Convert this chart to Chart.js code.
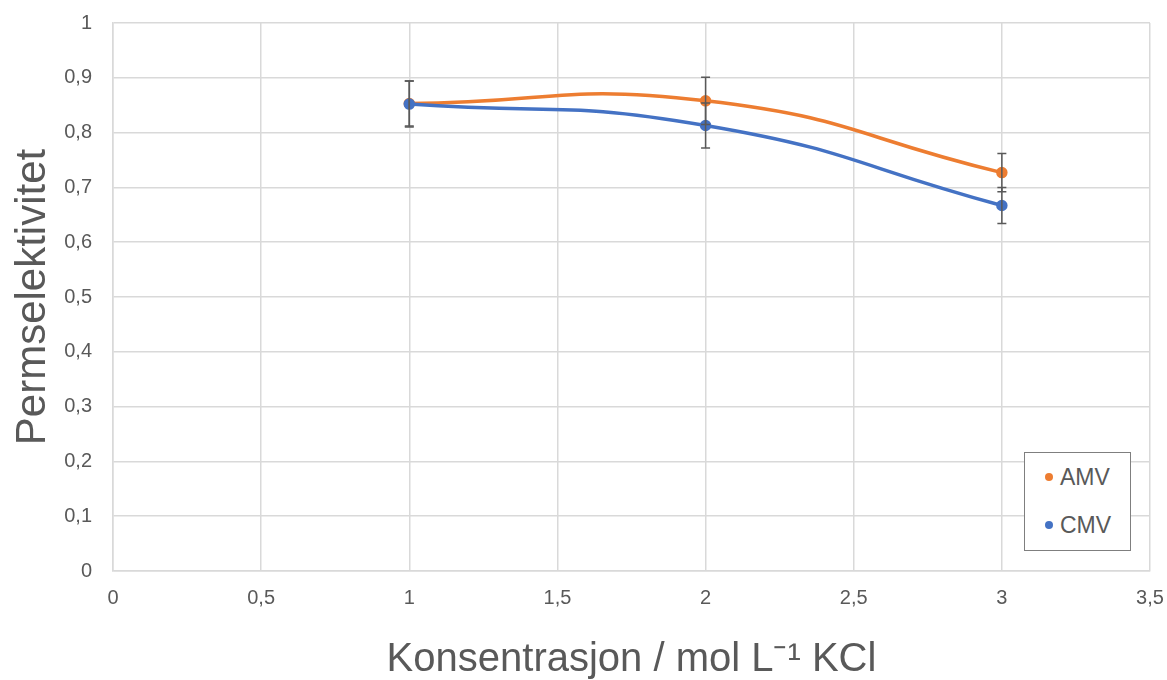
<!DOCTYPE html>
<html>
<head>
<meta charset="utf-8">
<script src="https://cdn.jsdelivr.net/npm/chart.js@4.4.0/dist/chart.umd.min.js"></script>
<style>
    body { margin: 0; background: #fff; }
    #wrap { position: relative; width: 1167px; height: 680px; }
    #legend {
        position: absolute; left: 1024px; top: 452px; width: 105px; height: 97px;
        border: 1.5px solid #7f7f7f; background: #fff;
        font-family: "Liberation Sans", Arial, sans-serif; font-size: 23px; color: #595959;
    }
    #legend div { position: absolute; left: 20px; }
    #legend span.dot { display: inline-block; width: 8px; height: 8px; border-radius: 50%; margin-right: 7px; vertical-align: middle; position: relative; top: -2px; }
</style>
</head>
<body>
<div id="wrap">
    <canvas id="chart" width="1167" height="680"></canvas>
    <div id="legend">
        <div style="top:11px"><span class="dot" style="background:#ED7D31"></span>AMV</div>
        <div style="top:59px"><span class="dot" style="background:#4472C4"></span>CMV</div>
    </div>
</div>
<script>
const concentrations = [1, 2, 3];
const amvValues = [0.853, 0.858, 0.727];
const amvErrors = [0.041, 0.043, 0.035];
const cmvValues = [0.852, 0.813, 0.667];
const cmvErrors = [0.042, 0.041, 0.033];

const TEXT_COLOR = '#595959';
const GRID_COLOR = '#d9d9d9';
const FONT = '"Liberation Sans", Arial, sans-serif';

function toPoints(xs, ys) {
    return xs.map((x, i) => ({ x: x, y: ys[i] }));
}

function comma(v) {
    return String(Math.round(v * 10) / 10).replace('.', ',');
}

// draws vertical error bars with caps from the error arrays
const errorBars = {
    id: 'errorBars',
    afterDatasetsDraw(chart) {
        const ctx = chart.ctx;
        const yScale = chart.scales.y;
        ctx.save();
        ctx.strokeStyle = '#595959';
        ctx.lineWidth = 1.5;
        chart.data.datasets.forEach((ds, di) => {
            const meta = chart.getDatasetMeta(di);
            meta.data.forEach((pt, i) => {
                const v = ds.data[i].y;
                const e = ds.errors[i];
                const top = yScale.getPixelForValue(v + e);
                const bot = yScale.getPixelForValue(v - e);
                ctx.beginPath();
                ctx.moveTo(pt.x, top);
                ctx.lineTo(pt.x, bot);
                ctx.moveTo(pt.x - 4.5, top);
                ctx.lineTo(pt.x + 4.5, top);
                ctx.moveTo(pt.x - 4.5, bot);
                ctx.lineTo(pt.x + 4.5, bot);
                ctx.stroke();
            });
        });
        ctx.restore();
    }
};

new Chart(document.getElementById('chart'), {
    type: 'scatter',
    data: {
        datasets: [{
            label: 'CMV',
            data: toPoints(concentrations, cmvValues),
            errors: cmvErrors,
            borderColor: '#4472C4',
            backgroundColor: '#4472C4',
            borderWidth: 3.5,
            pointRadius: 4,
            showLine: true,
            tension: 0.5
        }, {
            label: 'AMV',
            data: toPoints(concentrations, amvValues),
            errors: amvErrors,
            borderColor: '#ED7D31',
            backgroundColor: '#ED7D31',
            borderWidth: 3.5,
            pointRadius: 4,
            showLine: true,
            tension: 0.5
        }]
    },
    options: {
        responsive: false,
        animation: false,
        layout: { padding: { top: 23, right: 17, left: 12, bottom: 0 } },
        plugins: {
            legend: { display: false },
            tooltip: { enabled: false }
        },
        scales: {
            x: {
                type: 'linear',
                min: 0,
                max: 3.5,
                afterFit: s => {
                    s.height = 109;
                    s.paddingLeft = 0;
                    s.paddingRight = 0;
                },
                ticks: {
                    stepSize: 0.5,
                    color: TEXT_COLOR,
                    font: { family: FONT, size: 20 },
                    padding: 15,
                    callback: v => comma(v)
                },
                grid: { color: GRID_COLOR, lineWidth: 1.5, drawTicks: false },
                border: { color: GRID_COLOR, width: 1.5 },
                title: {
                    display: true,
                    text: 'Konsentrasjon / mol L\u207B\u00B9 KCl',
                    color: TEXT_COLOR,
                    font: { family: FONT, size: 40, lineHeight: 1 },
                    padding: { top: 0, bottom: 0 }
                }
            },
            y: {
                min: 0,
                max: 1,
                afterFit: s => {
                    s.width = 101;
                    s.paddingTop = 0;
                    s.paddingBottom = 0;
                },
                ticks: {
                    stepSize: 0.1,
                    color: TEXT_COLOR,
                    font: { family: FONT, size: 20 },
                    padding: 21,
                    callback: v => comma(v)
                },
                grid: { color: GRID_COLOR, lineWidth: 1.5, drawTicks: false },
                border: { color: GRID_COLOR, width: 1.5 },
                title: {
                    display: true,
                    text: 'Permselektivitet',
                    color: TEXT_COLOR,
                    font: { family: FONT, size: 42, lineHeight: 1 },
                    padding: { top: 0, bottom: 0 }
                }
            }
        }
    },
    plugins: [errorBars]
});
</script>
</body>
</html>
